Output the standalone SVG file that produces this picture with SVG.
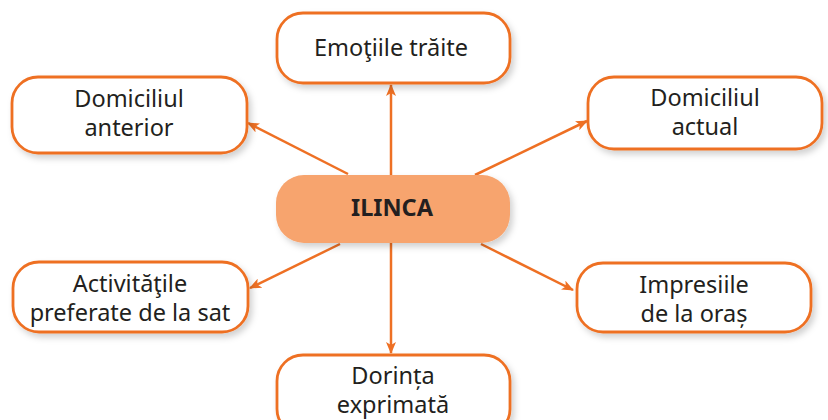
<svg xmlns="http://www.w3.org/2000/svg" width="828" height="420" viewBox="0 0 828 420">
<defs>
<style>
.box{fill:#fff;stroke:#EE7024;stroke-width:2.8;filter:url(#sh)}
.center{fill:#F7A46E;filter:url(#sh)}
.t{font-family:"Noto Sans","Open Sans",sans-serif;font-size:23.5px;fill:#231F20;text-anchor:middle}
.tb{font-family:"Noto Sans","Open Sans",sans-serif;font-size:23.5px;font-weight:bold;fill:#231F20;text-anchor:middle}
.c{stroke:#EE7024;stroke-width:2.5;fill:none;marker-end:url(#ah)}
</style>
<filter id="sh" x="-10%" y="-20%" width="125%" height="150%">
<feDropShadow dx="3" dy="4" stdDeviation="3" flood-color="#000" flood-opacity="0.18"/>
</filter>
<marker id="ah" viewBox="0 0 12 10" refX="11" refY="5" markerWidth="12" markerHeight="10" markerUnits="userSpaceOnUse" orient="auto">
<path d="M0,0 L12,5 L0,10 L3,5 Z" fill="#EE7024"/>
</marker>
</defs>
<g id="connectors">
<line class="c" x1="391" y1="175" x2="391" y2="85"/>
<line class="c" x1="391" y1="243" x2="391" y2="353"/>
<line class="c" x1="348" y1="174" x2="248" y2="123"/>
<line class="c" x1="475" y1="175" x2="587" y2="121"/>
<line class="c" x1="340" y1="244" x2="250" y2="288"/>
<line class="c" x1="481" y1="244" x2="573" y2="290"/>
</g>
<g id="ilinca">
<rect class="center" x="276" y="175" width="234" height="68" rx="28"/>
<text class="tb" x="392" y="216">ILINCA</text>
</g>
<g id="emotiile">
<rect class="box" x="277" y="13" width="233" height="70" rx="26"/>
<text class="t" x="391" y="56">Emoţiile trăite</text>
</g>
<g id="domiciliul-anterior">
<rect class="box" x="12" y="77" width="235" height="76" rx="26"/>
<text class="t" x="129" y="107">Domiciliul</text>
<text class="t" x="129" y="136">anterior</text>
</g>
<g id="domiciliul-actual">
<rect class="box" x="588" y="77" width="234" height="72" rx="26"/>
<text class="t" x="705" y="106">Domiciliul</text>
<text class="t" x="705" y="135">actual</text>
</g>
<g id="activitatile">
<rect class="box" x="13" y="262" width="235" height="70" rx="26"/>
<text class="t" x="130" y="292">Activităţile</text>
<text class="t" x="130" y="321">preferate de la sat</text>
</g>
<g id="impresiile">
<rect class="box" x="577" y="263" width="234" height="69" rx="26"/>
<text class="t" x="694" y="293">Impresiile</text>
<text class="t" x="694" y="322">de la oraș</text>
</g>
<g id="dorinta">
<rect class="box" x="277" y="355" width="233" height="80" rx="26"/>
<text class="t" x="393" y="384">Dorința</text>
<text class="t" x="393" y="413">exprimată</text>
</g>
</svg>
